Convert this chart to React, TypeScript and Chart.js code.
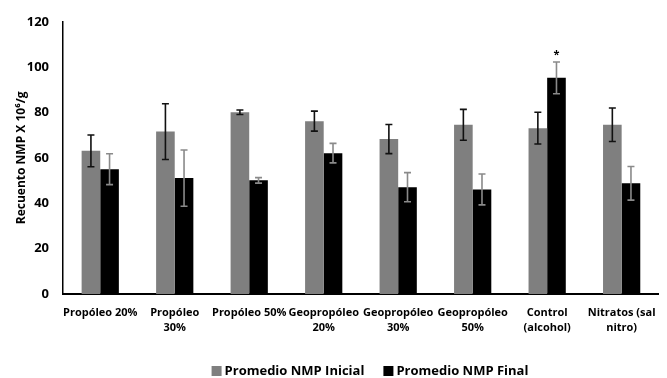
import React, { useEffect, useRef } from "react";
import { Chart, registerables } from "chart.js";

Chart.register(...registerables);

const categories: (string | string[])[] = [
  "Propóleo 20%",
  ["Propóleo", "30%"],
  "Propóleo 50%",
  ["Geopropóleo", "20%"],
  ["Geopropóleo", "30%"],
  ["Geopropóleo", "50%"],
  ["Control", "(alcohol)"],
  ["Nitratos (sal", "nitro)"],
];
const seriesNames = ["Promedio NMP Inicial", "Promedio NMP Final"];
const inicial = [63.1, 71.6, 80.1, 76.2, 68.3, 74.6, 73.1, 74.6];
const inicialErr = [7, 12.3, 1, 4.4, 6.4, 6.8, 7, 7.4];
const final = [55, 51.1, 50.1, 62.1, 47.1, 46.1, 95.3, 48.8];
const finalErr = [6.8, 12.4, 1.2, 4.3, 6.4, 6.8, 7, 7.4];
const marks = ["", "", "", "", "", "", "*", ""];
const yTicks = [0, 20, 40, 60, 80, 100, 120];

const FONT = "'Open Sans', 'Noto Sans', sans-serif";

const errorBarPlugin = {
  id: "errorBars",
  afterDatasetsDraw(chart: any) {
    const ctx = chart.ctx;
    const y = chart.scales.y;
    const sets = [
      { err: inicialErr, color: "#111111" },
      { err: finalErr, color: "#8a8a8a" },
    ];
    sets.forEach((s, di) => {
      const meta = chart.getDatasetMeta(di);
      const data = chart.data.datasets[di].data as number[];
      meta.data.forEach((bar: any, i: number) => {
        const v = data[i];
        const e = s.err[i];
        const x = bar.x;
        const yTop = y.getPixelForValue(v + e);
        const yBot = y.getPixelForValue(v - e);
        ctx.save();
        ctx.strokeStyle = s.color;
        ctx.lineWidth = 1.6;
        ctx.beginPath();
        ctx.moveTo(x, yTop);
        ctx.lineTo(x, yBot);
        ctx.moveTo(x - 3.5, yTop);
        ctx.lineTo(x + 3.5, yTop);
        ctx.moveTo(x - 3.5, yBot);
        ctx.lineTo(x + 3.5, yBot);
        ctx.stroke();
        if (di === 1 && marks[i]) {
          ctx.fillStyle = "#000";
          ctx.font = `bold 11px ${FONT}`;
          ctx.textAlign = "center";
          ctx.textBaseline = "bottom";
          ctx.fillText(marks[i], x, yTop - 2);
        }
        ctx.restore();
      });
    });
  },
};

const customLegend = {
  id: "customLegend",
  afterDraw(chart: any) {
    const ctx = chart.ctx;
    const box = 10;
    const gapText = 3;
    const gapItem = 19;
    const cy = 371.5;
    const cx = 370;
    ctx.save();
    ctx.font = `bold 13px ${FONT}`;
    ctx.textBaseline = "middle";
    ctx.textAlign = "left";
    const items = chart.data.datasets.map((d: any) => ({
      label: d.label as string,
      color: d.backgroundColor as string,
      w: ctx.measureText(d.label).width,
    }));
    const total =
      items.reduce((a: number, it: any) => a + box + gapText + it.w, 0) +
      gapItem * (items.length - 1);
    let x = cx - total / 2;
    items.forEach((it: any) => {
      ctx.fillStyle = it.color;
      ctx.fillRect(x, cy - box / 2 - 0.5, box, box);
      ctx.fillStyle = "#000";
      ctx.fillText(it.label, x + box + gapText, cy);
      x += box + gapText + it.w + gapItem;
    });
    ctx.restore();
  },
};

export default function App() {
  const ref = useRef<HTMLCanvasElement>(null);
  useEffect(() => {
    document.body.style.margin = "0";
    const chart = new Chart(ref.current!, {
      type: "bar",
      data: {
        labels: categories,
        datasets: [
          {
            label: seriesNames[0],
            data: inicial,
            backgroundColor: "#7f7f7f",
            barPercentage: 1,
            categoryPercentage: 0.5,
          },
          {
            label: seriesNames[1],
            data: final,
            backgroundColor: "#000000",
            barPercentage: 1,
            categoryPercentage: 0.5,
          },
        ],
      },
      options: {
        animation: false,
        responsive: false,
        maintainAspectRatio: false,
        layout: { padding: { top: 17, right: 7, left: 14, bottom: 43 } },
        plugins: {
          legend: { display: false },
          tooltip: { enabled: false },
        },
        scales: {
          x: {
            afterFit: (s: any) => {
              s.height = 41;
            },
            grid: { display: false, drawTicks: false },
            border: { color: "#000", width: 2 },
            ticks: {
              color: "#000",
              maxRotation: 0,
              autoSkip: false,
              padding: 11,
              font: { family: FONT, size: 11, weight: "bold", lineHeight: 1.4 },
            },
          },
          y: {
            min: 0,
            max: 120,
            afterBuildTicks: (s: any) => {
              s.ticks = yTicks.map((v) => ({ value: v }));
            },
            afterFit: (s: any) => {
              s.width = 49;
            },
            grid: { display: false, drawTicks: false },
            border: { color: "#000", width: 1.5 },
            ticks: {
              color: "#000",
              padding: 14,
              font: { family: FONT, size: 13, weight: "bold" },
            },
            title: {
              display: true,
              text: "Recuento NMP X 10⁶/g",
              color: "#000",
              padding: { top: 0, bottom: 0 },
              font: { family: FONT, size: 12, weight: "bold" },
            },
          },
        },
      },
      plugins: [errorBarPlugin, customLegend],
    } as any);
    return () => chart.destroy();
  }, []);
  return (
    <div style={{ width: 667, height: 378 }}>
      <canvas ref={ref} width={667} height={378} />
    </div>
  );
}
